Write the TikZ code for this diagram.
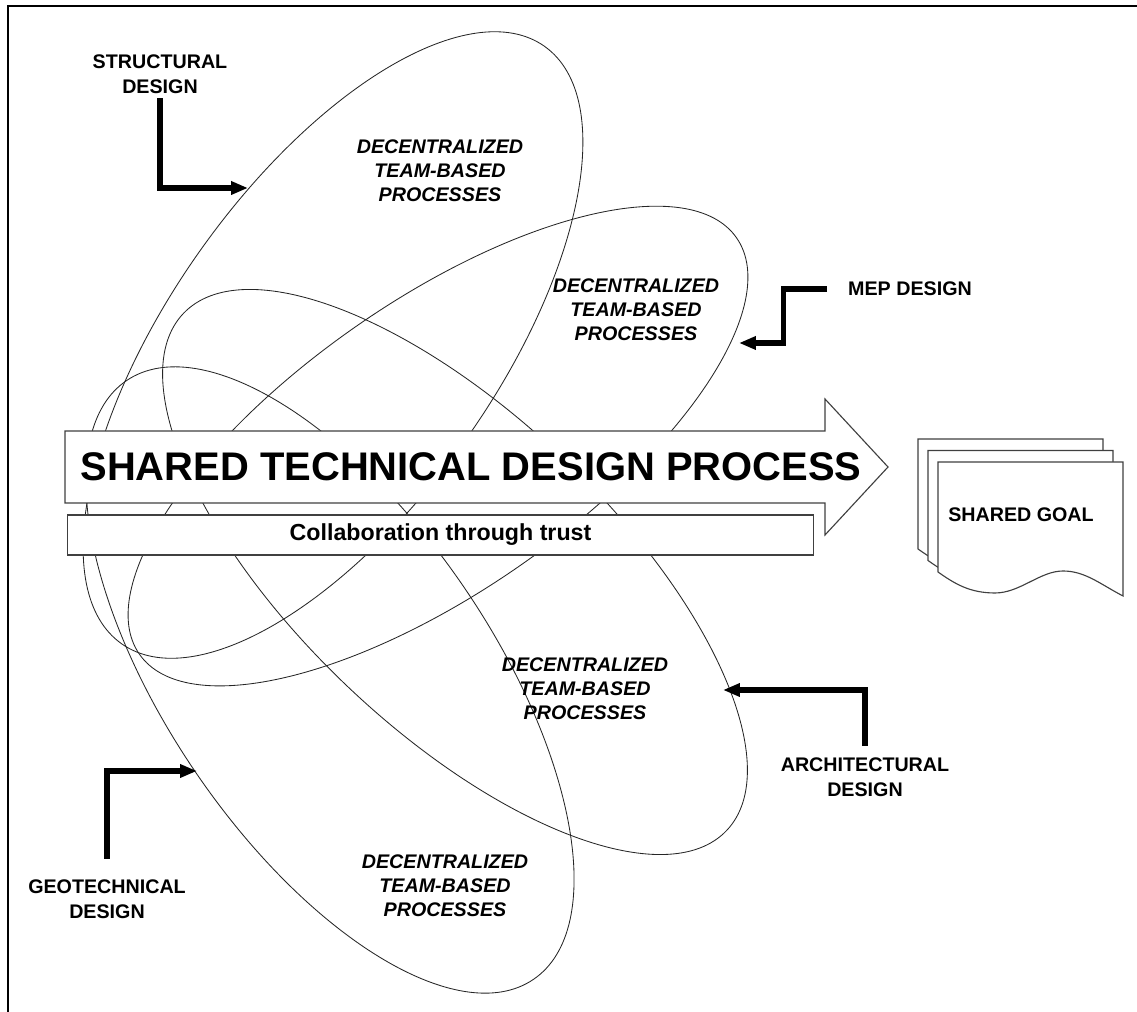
\documentclass[tikz,border=0pt]{standalone}
\usepackage{fontspec}
\setmainfont{Liberation Sans}
\usepackage{tikz}
\usetikzlibrary{arrows.meta}

\begin{document}
\begin{tikzpicture}[x=0.025cm, y=0.025cm,
    team/.style={draw=black!85, line width=0.6pt},
    feed/.style={line width=3.6pt, -{Triangle[length=12pt,width=9pt]}},
    outline/.style={draw=black!75, line width=0.8pt, fill=white},
    discipline/.style={font=\fontsize{14}{17.5}\selectfont\bfseries, align=center},
    teamtext/.style={font=\fontsize{14}{17}\selectfont\bfseries\itshape, align=center}]
\useasboundingbox (0,0) rectangle (1137,1012);

% frame
\draw[line width=1.6pt] (8,0) |- (1137,1006);

% one loop per discipline
\coordinate (structC) at (333,667);
\coordinate (mepC) at (438,566);
\coordinate (archC) at (455,440);
\coordinate (geoC) at (330,332);
\draw[team, rotate around={54.7:(structC)}] (structC) ellipse [x radius=366, y radius=163];
\draw[team, rotate around={34.9:(mepC)}] (mepC) ellipse [x radius=364, y radius=145];
\draw[team, rotate around={-43.6:(archC)}] (archC) ellipse [x radius=375, y radius=157];
\draw[team, rotate around={-55.8:(geoC)}] (geoC) ellipse [x radius=362, y radius=163];

\node[teamtext] (structTeam) at (440,841) {DECENTRALIZED\\TEAM-BASED\\PROCESSES};
\node[teamtext] (mepTeam) at (636,702) {DECENTRALIZED\\TEAM-BASED\\PROCESSES};
\node[teamtext] (archTeam) at (585,323) {DECENTRALIZED\\TEAM-BASED\\PROCESSES};
\node[teamtext] (geoTeam) at (445,126) {DECENTRALIZED\\TEAM-BASED\\PROCESSES};

% shared process arrow
\draw[outline] (65,509) -- (825,509) -- (825,477) -- (888,545) -- (825,613)
    -- (825,581) -- (65,581) -- cycle;
\node[font=\fontsize{28.4}{30}\selectfont\bfseries] (process) at (471,545)
    {SHARED TECHNICAL DESIGN PROCESS};
\node[outline, minimum width=18.625cm, minimum height=1cm,
    font=\fontsize{16.5}{19}\selectfont\bfseries] (trust) at (440.5,477)
    {Collaboration through trust};

% goal documents
\foreach \d in {2,1,0}
  \draw[outline, shift={(-10*\d,11.5*\d)}] (938,550) -- (1123,550) -- (1123,416)
    .. controls (1100,428) and (1085,441) .. (1063,441)
    .. controls (1040,441) and (1020,419) .. (995,419)
    .. controls (970,419) and (955,428) .. (938,440) -- cycle;
\node[font=\fontsize{14}{17}\selectfont\bfseries] (goal) at (1021,497) {SHARED GOAL};

% disciplines feeding their loops
\node[discipline] (structural) at (160,938) {STRUCTURAL\\DESIGN};
\node[discipline] (mep) at (910,723) {MEP DESIGN};
\node[discipline] (architectural) at (865,235) {ARCHITECTURAL\\DESIGN};
\node[discipline] (geotechnical) at (107,113) {GEOTECHNICAL\\DESIGN};

\coordinate (structTip) at (248,824);
\coordinate (mepTip) at (739,669);
\coordinate (archTip) at (723,322);
\coordinate (geoTip) at (197,241);

\draw[feed] (structural.south) |- (structTip);
\draw[feed] ([xshift=-0.4cm]mep.west) -- ++(-44,0) |- (mepTip);
\draw[feed] ([yshift=0.18cm]architectural.north) |- (archTip);
\draw[feed] ([yshift=0.4cm]geotechnical.north) |- (geoTip);
\end{tikzpicture}
\end{document}
